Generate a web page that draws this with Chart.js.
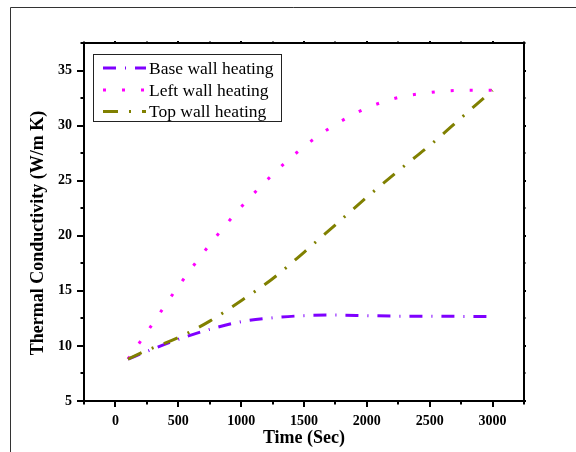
<!DOCTYPE html>
<html>
<head>
<meta charset="utf-8">
<title>Thermal Conductivity vs Time</title>
<script src="https://cdn.jsdelivr.net/npm/chart.js@4.4.1/dist/chart.umd.min.js"></script>
<style>
  html, body { margin: 0; padding: 0; background: #ffffff; }
  #wrap { width: 576px; height: 452px; position: relative; }
</style>
</head>
<body>
<div id="wrap"><canvas id="chart" width="576" height="452"></canvas></div>
<script>
// Time samples (s)
const time = [100, 250, 500, 750, 1000, 1250, 1500, 1750, 2000, 2250, 2500, 2750, 3000];
// Thermal conductivity (W/m K) for each heating case
const baseWall = [8.8, 9.5, 10.6, 11.5, 12.2, 12.55, 12.75, 12.8, 12.75, 12.7, 12.7, 12.68, 12.67];
const leftWall = [8.8, 11.25, 15.4, 19.2, 22.6, 25.55, 28.1, 30.1, 31.6, 32.55, 33.0, 33.2, 33.2];
const topWall  = [8.8, 9.6, 10.75, 12.25, 14.1, 16.1, 18.5, 21.0, 23.5, 25.9, 28.2, 30.7, 33.2];
const seriesNames = ['Base wall heating', 'Left wall heating', 'Top wall heating'];
// Axis ticks and titles
const xTicks = [0, 500, 1000, 1500, 2000, 2500, 3000];
const yTicks = [5, 10, 15, 20, 25, 30, 35];
const xTitle = 'Time (Sec)';
const yTitle = 'Thermal Conductivity (W/m K)';

const serif = '"Liberation Serif", "Times New Roman", serif';

function pts(ys) { return time.map((t, i) => ({ x: t, y: ys[i] })); }

// Minor ticks sit halfway between majors and extend half a step past the ends
function minorsOf(majors) {
  const step = majors[1] - majors[0];
  const out = [majors[0] - step / 2];
  for (let i = 0; i < majors.length; i++) out.push(majors[i] + step / 2);
  return out;
}

const framePlugin = {
  id: 'frame',
  beforeDraw(chart) {
    const ctx = chart.ctx;
    ctx.save();
    ctx.strokeStyle = '#333333';
    ctx.lineWidth = 1;
    ctx.beginPath();
    ctx.moveTo(10.5, chart.height);
    ctx.lineTo(10.5, 7.5);
    ctx.lineTo(chart.width, 7.5);
    ctx.stroke();
    ctx.restore();
  },
  afterDraw(chart) {
    const ctx = chart.ctx;
    const a = chart.chartArea;
    const xs = chart.scales.x, ys = chart.scales.y;
    ctx.save();
    ctx.strokeStyle = '#000000';
    ctx.lineCap = 'butt';

    // axis box
    ctx.lineWidth = 2;
    ctx.strokeRect(a.left, a.top, a.right - a.left, a.bottom - a.top);

    const tick = (x1, y1, x2, y2) => { ctx.beginPath(); ctx.moveTo(x1, y1); ctx.lineTo(x2, y2); ctx.stroke(); };
    const inX = v => v >= xs.min && v <= xs.max;
    const inY = v => v >= ys.min && v <= ys.max;

    // bottom / top ticks
    xTicks.filter(inX).forEach(v => {
      const p = Math.round(xs.getPixelForValue(v));
      tick(p, a.bottom, p, a.bottom + 6);
      tick(p, a.top, p, a.top - 2);
    });
    minorsOf(xTicks).filter(inX).forEach(v => {
      const p = Math.round(xs.getPixelForValue(v));
      tick(p, a.bottom, p, a.bottom + 3.5);
      tick(p, a.top, p, a.top - 1.5);
    });
    // left / right ticks
    yTicks.filter(inY).forEach(v => {
      const p = Math.round(ys.getPixelForValue(v));
      tick(a.left, p, a.left - 7, p);
      tick(a.right, p, a.right + 2, p);
    });
    minorsOf(yTicks).filter(inY).forEach(v => {
      const p = Math.round(ys.getPixelForValue(v));
      tick(a.left, p, a.left - 3.5, p);
      tick(a.right, p, a.right + 1.5, p);
    });

    // y axis title
    ctx.save();
    ctx.translate(38, 233);
    ctx.rotate(-Math.PI / 2);
    ctx.fillStyle = '#000000';
    ctx.font = 'bold 18px ' + serif;
    ctx.textAlign = 'center';
    ctx.textBaseline = 'middle';
    ctx.fillText(yTitle, 0, 0);
    ctx.restore();

    // legend box
    const bx = 93.5, by = 54.5, bw = 188, bh = 67;
    ctx.fillStyle = '#ffffff';
    ctx.fillRect(bx, by, bw, bh);
    ctx.lineWidth = 1;
    ctx.strokeStyle = '#222222';
    ctx.strokeRect(bx, by, bw, bh);
    const rows = [68, 90, 111.5];
    [0, 1, 2].forEach((di, r) => {
      const ds = chart.data.datasets[di];
      const y = rows[r];
      ctx.strokeStyle = ds.borderColor;
      ctx.lineWidth = ds.borderWidth;
      ctx.setLineDash(ds.borderDash || []);
      ctx.beginPath();
      ctx.moveTo(103, y);
      ctx.lineTo(146, y);
      ctx.stroke();
      ctx.setLineDash([]);
      ctx.fillStyle = '#000000';
      ctx.font = '17.5px ' + serif;
      ctx.textBaseline = 'middle';
      ctx.textAlign = 'left';
      ctx.fillText(ds.label, 149, y + 1);
    });
    ctx.restore();
  }
};

new Chart(document.getElementById('chart'), {
  type: 'line',
  data: {
    datasets: [
      {
        label: seriesNames[0], data: pts(baseWall),
        borderColor: '#7f00ff', borderWidth: 3, borderDash: [13, 9, 1, 9],
        pointRadius: 0, cubicInterpolationMode: 'monotone', order: 2
      },
      {
        label: seriesNames[1], data: pts(leftWall),
        borderColor: '#ff00ff', borderWidth: 3, borderDash: [3, 16],
        pointRadius: 0, cubicInterpolationMode: 'monotone', order: 1
      },
      {
        label: seriesNames[2], data: pts(topWall),
        borderColor: '#808000', borderWidth: 3, borderDash: [15, 11, 2, 11],
        pointRadius: 0, cubicInterpolationMode: 'monotone', order: 0
      }
    ]
  },
  options: {
    responsive: false,
    animation: false,
    devicePixelRatio: 1,
    layout: { padding: { left: 0, top: 43, right: 52, bottom: 0 } },
    plugins: { legend: { display: false }, tooltip: { enabled: false } },
    scales: {
      x: {
        type: 'linear', min: -250, max: 3250,
        afterBuildTicks: s => { s.ticks = xTicks.map(v => ({ value: v })); },
        afterFit: s => { s.height = 51; },
        grid: { display: false, drawTicks: false },
        border: { display: false },
        ticks: {
          color: '#000', padding: 12, maxRotation: 0,
          callback: v => String(v),
          font: { family: serif, size: 14, weight: 'bold' }
        },
        title: {
          display: true, text: xTitle, color: '#000',
          font: { family: serif, size: 18, weight: 'bold', lineHeight: 1 },
          padding: { top: 0, bottom: 5 }
        }
      },
      y: {
        type: 'linear', min: 5, max: 37.5,
        afterBuildTicks: s => { s.ticks = yTicks.map(v => ({ value: v })); },
        afterFit: s => { s.width = 84; },
        grid: { display: false, drawTicks: false },
        border: { display: false },
        ticks: {
          color: '#000', padding: 12,
          callback: v => String(v),
          font: { family: serif, size: 14, weight: 'bold' }
        }
      }
    }
  },
  plugins: [framePlugin]
});
</script>
</body>
</html>
